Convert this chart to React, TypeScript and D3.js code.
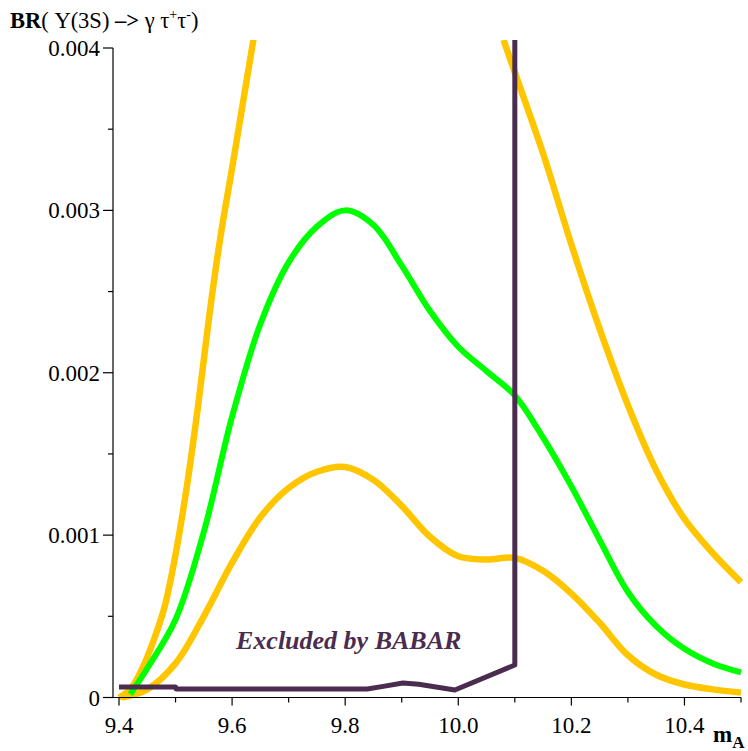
import React from "react";
import * as d3 from "d3";

const xTicksMajor = [9.4, 9.6, 9.8, 10.0, 10.2, 10.4];
const xTicksMinor = [9.5, 9.7, 9.9, 10.1, 10.3, 10.5];
const yTicksMajor = [0, 0.001, 0.002, 0.003, 0.004];
const yTicksMinor = [0.0005, 0.0015, 0.0025, 0.0035];
const yTickLabels = ["0", "0.001", "0.002", "0.003", "0.004"];
const xTickLabels = ["9.4", "9.6", "9.8", "10.0", "10.2", "10.4"];

// green (central) curve
const greenX = [9.42, 9.45, 9.5, 9.55, 9.6, 9.65, 9.7, 9.75, 9.8, 9.85, 9.9, 9.95, 10.0, 10.05, 10.1, 10.15, 10.2, 10.25, 10.3, 10.35, 10.4, 10.45, 10.5];
const greenY = [0.00002, 0.00018, 0.00048, 0.00102, 0.00173, 0.0023, 0.00268, 0.0029, 0.003, 0.00291, 0.00266, 0.00238, 0.00216, 0.00201, 0.00186, 0.0016, 0.0013, 0.00097, 0.00065, 0.00044, 0.0003, 0.00021, 0.000155];

// lower orange curve
const lowX = [9.405, 9.45, 9.5, 9.55, 9.6, 9.65, 9.7, 9.75, 9.8, 9.85, 9.9, 9.95, 10.0, 10.05, 10.1, 10.15, 10.2, 10.25, 10.3, 10.35, 10.4, 10.45, 10.5];
const lowY = [0.0, 0.00005, 0.00021, 0.0005, 0.00083, 0.00111, 0.00129, 0.00139, 0.00142, 0.00134, 0.00118, 0.00099, 0.00087, 0.00085, 0.00086, 0.00078, 0.00064, 0.00046, 0.00026, 0.00014, 0.00008, 0.00005, 0.00003];

// upper orange curve, left branch
const upLX = [9.4, 9.42, 9.44, 9.46, 9.48, 9.5, 9.52, 9.54, 9.56, 9.58, 9.6, 9.62, 9.64, 9.66];
const upLY = [0.0, 0.00005, 0.00017, 0.00034, 0.00055, 0.00088, 0.0013, 0.0018, 0.00236, 0.00285, 0.00326, 0.00368, 0.0041, 0.00452];

// upper orange curve, right branch
const upRX = [10.08, 10.1, 10.15, 10.2, 10.25, 10.3, 10.35, 10.4, 10.45, 10.5];
const upRY = [0.00405, 0.00385, 0.00335, 0.00279, 0.00227, 0.0018, 0.0014, 0.0011, 0.00089, 0.00071];

// BABAR exclusion boundary
const babarX = [9.4, 9.5, 9.501, 9.839, 9.87, 9.902, 9.93, 9.994, 10.1, 10.1];
const babarY = [0.0000646, 0.0000646, 0.0000523, 0.0000523, 0.00007, 0.0000892, 0.000082, 0.000046, 0.0002, 0.00406];

const W = 748;
const H = 751;

export default function App() {
  const x = d3.scaleLinear().domain([9.4, 10.5]).range([119, 741]);
  const y = d3.scaleLinear().domain([0, 0.004]).range([697.5, 48]);

  const smooth = (xs: number[], ys: number[]) =>
    d3
      .line<number>()
      .x((_, i) => x(xs[i]))
      .y((_, i) => y(ys[i]))
      .curve(d3.curveCatmullRom.alpha(0.5))(xs.map((_, i) => i)) || "";
  const straight = (xs: number[], ys: number[]) =>
    d3
      .line<number>()
      .x((_, i) => x(xs[i]))
      .y((_, i) => y(ys[i]))(xs.map((_, i) => i)) || "";

  const orange = "#FFC600";
  const green = "#00FF00";
  const purple = "#4A2C4F";
  const font = "Liberation Serif, Times New Roman, serif";

  return (
    <svg width={W} height={H} style={{ position: "absolute", left: 0, top: 0, background: "#fff" }}>
      <defs>
        <clipPath id="plotclip">
          <rect x={100} y={40} width={648} height={665} />
        </clipPath>
      </defs>
      <g clipPath="url(#plotclip)" fill="none" strokeLinejoin="round">
        <path d={smooth(upLX, upLY)} stroke={orange} strokeWidth={6.5} />
        <path d={smooth(upRX, upRY)} stroke={orange} strokeWidth={6.5} />
        <path d={smooth(lowX, lowY)} stroke={orange} strokeWidth={6.5} />
        <path d={smooth(greenX, greenY)} stroke={green} strokeWidth={6} />
        <path d={straight(babarX, babarY)} stroke={purple} strokeWidth={5} />
      </g>

      {/* axes */}
      <g stroke="#000" strokeWidth={1.2}>
        <line x1={113} x2={113} y1={48} y2={697.5} />
        <line x1={103} x2={741} y1={697.5} y2={697.5} />
        {yTicksMajor.map((t) => (
          <line key={"ym" + t} x1={103} x2={113} y1={y(t)} y2={y(t)} />
        ))}
        {yTicksMinor.map((t) => (
          <line key={"yn" + t} x1={108} x2={113} y1={y(t)} y2={y(t)} />
        ))}
        {xTicksMajor.map((t) => (
          <line key={"xm" + t} x1={x(t)} x2={x(t)} y1={697.5} y2={705.5} />
        ))}
        {xTicksMinor.map((t) => (
          <line key={"xn" + t} x1={x(t)} x2={x(t)} y1={697.5} y2={702.5} />
        ))}
      </g>
      <g fontFamily={font} fontSize={23} fill="#000">
        {yTicksMajor.map((t, i) => (
          <text key={"yl" + t} x={100} y={y(t) + 8} textAnchor="end">
            {yTickLabels[i]}
          </text>
        ))}
        {xTicksMajor.map((t, i) => (
          <text key={"xl" + t} x={x(t)} y={733} textAnchor="middle">
            {xTickLabels[i]}
          </text>
        ))}
        <text x={713} y={742} fontWeight="bold">
          m
          <tspan fontSize={17} dy={6}>A</tspan>
        </text>
        <text x={10} y={28} fontSize={22.5}>
          <tspan fontWeight="bold">BR</tspan>
          <tspan>( Υ(3S) </tspan>
          <tspan fontWeight="bold">–&gt;</tspan>
          <tspan> γ τ</tspan>
          <tspan fontSize={14} dy={-9}>+</tspan>
          <tspan dy={9}>τ</tspan>
          <tspan fontSize={14} dy={-9}>-</tspan>
          <tspan dy={9}>)</tspan>
        </text>
      </g>
      <text
        x={236}
        y={649}
        fontFamily={font}
        fontSize={26}
        fontWeight="bold"
        fontStyle="italic"
        fill={purple}
      >
        Excluded by BABAR
      </text>
    </svg>
  );
}
